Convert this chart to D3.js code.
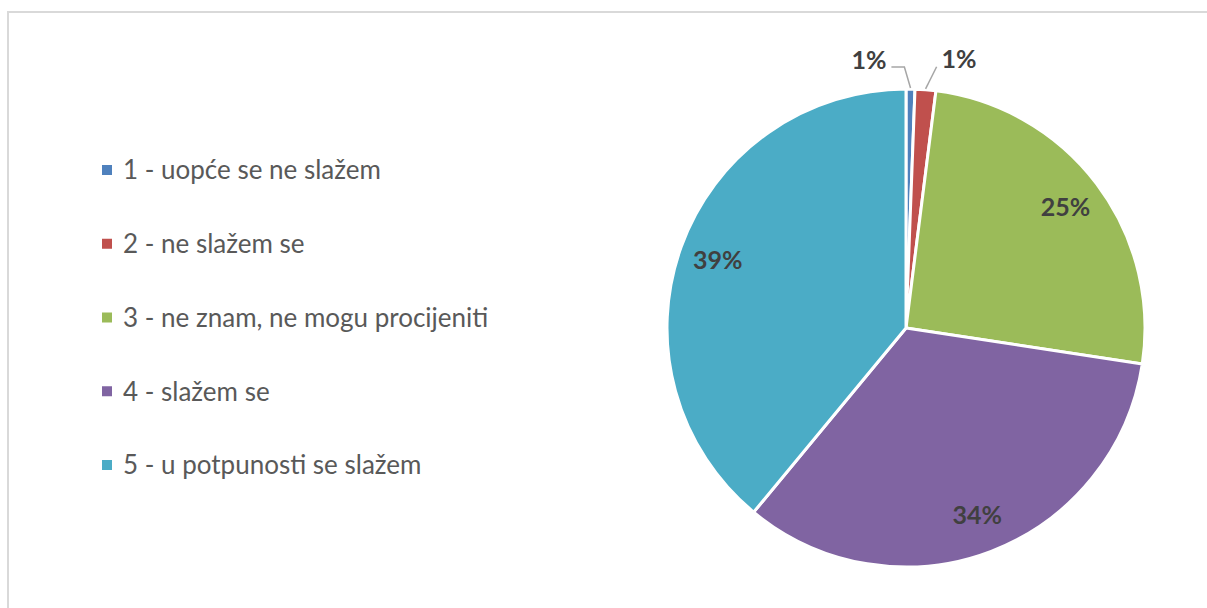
<!DOCTYPE html>
<html>
<head>
<meta charset="utf-8">
<script src="https://cdn.jsdelivr.net/npm/d3@7"></script>
<style>
    body { margin: 0; background: #fff; }
    text { font-family: Lato, "Open Sans", sans-serif; }
</style>
</head>
<body>
<div id="chart"></div>
<script>
(function() {
    // categories and shares (percent)
    var categories = [
        "1 - uopće se ne slažem",
        "2 - ne slažem se",
        "3 - ne znam, ne mogu procijeniti",
        "4 - slažem se",
        "5 - u potpunosti se slažem"
    ];
    var values = [0.6, 1.4, 25.4, 33.6, 39.0];
    var labels = ["1%", "1%", "25%", "34%", "39%"];
    var colors = ["#4f81bd", "#c0504d", "#9bbb59", "#8064a2", "#4bacc6"];

    var width = 1207,
        height = 608;

    var cx = 906,
        cy = 328,
        radius = 239;

    var svg = d3.select("#chart")
        .append("svg")
        .attr("width", width)
        .attr("height", height);

    // chart border
    svg.append("rect")
        .attr("x", 8)
        .attr("y", 12)
        .attr("width", 1300)
        .attr("height", 700)
        .attr("fill", "none")
        .attr("stroke", "#d9d9d9")
        .attr("stroke-width", 2);

    var pie = d3.pie()
        .sort(null)
        .value(function(d) { return d; });

    var arcs = pie(values);

    var arc = d3.arc()
        .innerRadius(0)
        .outerRadius(radius);

    var labelArc = d3.arc()
        .innerRadius(200)
        .outerRadius(200);

    var g = svg.append("g")
        .attr("transform", "translate(" + cx + "," + cy + ")");

    g.selectAll(".slice")
        .data(arcs)
        .enter().append("path")
        .attr("class", "slice")
        .attr("d", arc)
        .attr("fill", function(d, i) { return colors[i]; })
        .attr("stroke", "#fff")
        .attr("stroke-width", 3)
        .attr("stroke-linejoin", "round");

    function polar(a, r) {
        return [Math.sin(a) * r, -Math.cos(a) * r];
    }

    // big slices: labels inside
    g.selectAll(".inlabel")
        .data(arcs.filter(function(d) { return d.value >= 5; }))
        .enter().append("text")
        .attr("class", "inlabel")
        .attr("transform", function(d) { return "translate(" + labelArc.centroid(d) + ")"; })
        .attr("text-anchor", "middle")
        .attr("dy", "0.36em")
        .attr("font-size", 25)
        .attr("font-weight", "bold")
        .attr("fill", "#404040")
        .text(function(d) { return labels[d.index]; });

    // small slices: labels outside with leader lines
    var small = arcs.filter(function(d) { return d.value < 5; });
    small.forEach(function(d, k) {
        var mid = (d.startAngle + d.endAngle) / 2;
        var p0 = polar(mid, radius + 1);
        var lbl;
        if (k === 0) {
            var p1 = polar(mid - 0.025, radius + 22);
            var p2 = [p1[0] - 13, p1[1]];
            g.append("polyline")
                .attr("points", [p0, p1, p2].map(function(p) { return p.join(","); }).join(" "))
                .attr("fill", "none")
                .attr("stroke", "#a6a6a6")
                .attr("stroke-width", 1.5);
            lbl = g.append("text")
                .attr("x", p2[0] - 5)
                .attr("y", p2[1] - 7)
                .attr("text-anchor", "end");
        } else {
            var q1 = polar(mid + 0.035, radius + 24);
            g.append("line")
                .attr("x1", p0[0]).attr("y1", p0[1])
                .attr("x2", q1[0]).attr("y2", q1[1])
                .attr("stroke", "#a6a6a6")
                .attr("stroke-width", 1.5);
            lbl = g.append("text")
                .attr("x", q1[0] + 5)
                .attr("y", q1[1] - 8)
                .attr("text-anchor", "start");
        }
        lbl.attr("dy", "0.36em")
            .attr("font-size", 25)
            .attr("font-weight", "bold")
            .attr("fill", "#404040")
            .text(labels[d.index]);
    });

    // legend
    var y = d3.scalePoint()
        .domain(categories)
        .range([170, 465]);

    var legend = svg.selectAll(".legend")
        .data(categories)
        .enter().append("g")
        .attr("class", "legend")
        .attr("transform", function(d) { return "translate(102," + y(d) + ")"; });

    legend.append("rect")
        .attr("x", 0)
        .attr("y", -5)
        .attr("width", 10)
        .attr("height", 10)
        .attr("fill", function(d, i) { return colors[i]; });

    legend.append("text")
        .attr("x", 21)
        .attr("dy", "0.36em")
        .attr("font-size", 26)
        .attr("fill", "#595959")
        .text(function(d) { return d; });
})();
</script>
</body>
</html>
